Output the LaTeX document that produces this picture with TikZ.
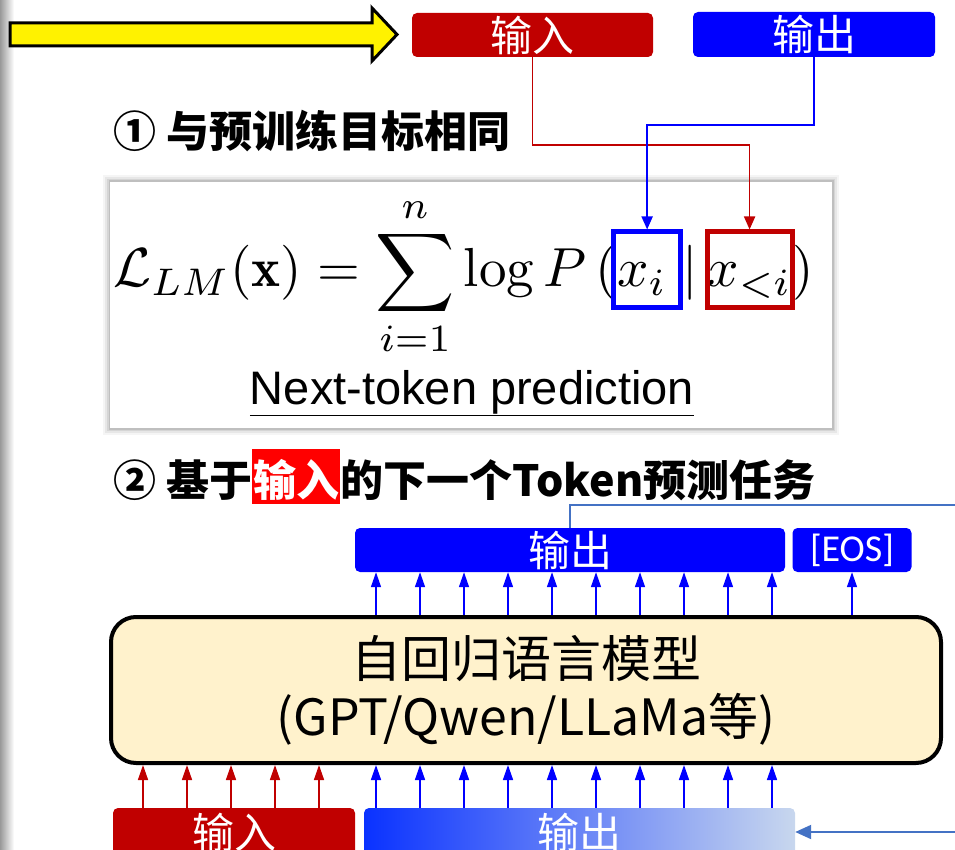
\documentclass[tikz,border=0pt]{standalone}
\usepackage{graphicx}
\usepackage{fontspec}
\usetikzlibrary{arrows.meta}
\newfontfamily\cjkfont{Noto Sans CJK SC}
\newfontfamily\eosfont{Carlito}
\newfontfamily\ntfont{Liberation Sans}
\definecolor{dred}{HTML}{C00000}
\definecolor{pblue}{HTML}{0000FF}
\definecolor{steel}{HTML}{4472C4}
\definecolor{cream}{HTML}{FFF2CC}
\definecolor{gstart}{HTML}{0A32FF}
\definecolor{gend}{HTML}{C8D7EE}
\newcommand\fs[1]{\scalebox{5.5}{$\displaystyle #1$}}
\tikzset{
  lbl/.style={rounded corners=5pt, inner sep=0pt, text=white, font=\cjkfont\fontsize{42}{44}\selectfont},
  head/.style={anchor=base west, inner sep=0pt, font=\cjkfont\bfseries\fontsize{43}{45}\selectfont},
  fpiece/.style={anchor=base west, inner sep=0pt},
  tokbox/.style={line width=5pt, inner sep=0pt, text height=55pt, text depth=20pt, anchor=base},
  redline/.style={draw=dred, line width=1.8pt, -{Triangle[length=13pt,width=11pt]}},
  blueline/.style={draw=pblue, line width=1.8pt, -{Triangle[length=13pt,width=11pt]}},
  uparr/.style={line width=1.5pt, -{Triangle[length=15pt,width=10pt]}},
  steelline/.style={draw=steel, line width=1.5pt}
}
\begin{document}
\begin{tikzpicture}[x=1pt, y=-1pt]
\useasboundingbox (0,0) rectangle (955,850);
% left page shadow
\shade[left color=black!40, right color=white] (0,0) rectangle (14,850);
% yellow arrow
\draw[line width=3pt, fill=yellow, line join=miter] (10,23) -- (372,23) -- (372,8) -- (397,34.5) -- (372,61) -- (372,46) -- (10,46) -- cycle;
% top boxes
\node[lbl, fill=dred, minimum width=241pt, minimum height=44pt] (in1) at (532.5,35) {输入};
\node[lbl, fill=pblue, minimum width=242pt, minimum height=45pt] (out1) at (814,34.5) {输出};
% heading 1
\node[head] (h1) at (113,148) {① 与预训练目标相同};
% formula box with shadow
\foreach \i/\o in {7/0.04, 5/0.06, 3/0.08, 1.5/0.1} \fill[black, opacity=\o] (110-\i,182-\i) rectangle (832+\i,428+\i);
\node[fill=white, inner sep=0pt, minimum width=722pt, minimum height=246pt] (fbox) at (471,305) {};
% formula
\node[fpiece] (f1) at (113,287) {\fs{\mathcal{L}_{LM}(\mathbf{x}) = \sum_{i=1}^{n} \log P\,(}};
\node[fpiece] (f2) at (f1.base east) {\fs{x_i}};
\node[fpiece] (f3) at (f2.base east) {\fs{\;|\,}};
\node[fpiece] (f4) at (f3.base east) {\fs{x_{<i}}};
\node[fpiece] (f5) at (f4.base east) {\fs{)}};
\node[tokbox, draw=pblue, minimum width=67pt] (bxi) at ([xshift=5pt]f2.base) {};
\node[tokbox, draw=dred, minimum width=85pt] (bxlt) at (f4.base) {};
\node[anchor=base, inner sep=0pt, font=\ntfont\fontsize{47}{50}\selectfont] (ntp) at (472,404) {\underline{Next-token prediction}};
% connectors to formula
\draw[redline] (in1.south) -- ++(0,88) -| (bxlt.north);
\draw[blueline] (out1.south) -- ++(0,68) -| (bxi.north);
% heading 2
\node[head] (h2a) at (113,496) {② 基于};
\node[head, fill=red, text=white, inner xsep=1pt, inner ysep=0pt, text height=47pt, text depth=8pt] (h2b) at (h2a.base east) {输入};
\node[head] (h2c) at (h2b.base east) {的下一个Token预测任务};
% output row
\node[lbl, fill=pblue, minimum width=430pt, minimum height=44pt] (out2) at (570,550) {输出};
\node[lbl, fill=pblue, minimum width=119pt, minimum height=44pt, font=\eosfont\fontsize{38}{40}\selectfont] (eos) at (852,550) {[EOS]};
\coordinate (edgeT) at (955,505);
\draw[steelline] (out2.north) |- (edgeT);
% model
\node[draw=black, line width=4pt, fill=cream, rounded corners=25pt, minimum width=830pt, minimum height=146pt, align=center, font=\cjkfont\fontsize{50}{58}\selectfont] (lm) at (526,690) {自回归语言模型\\(GPT/Qwen/LLaMa等)};
% bottom row
\node[lbl, fill=dred, minimum width=242pt, minimum height=48pt] (in2) at (234,832) {输入};
\node[lbl, left color=gstart, right color=gend, minimum width=431pt, minimum height=48pt] (out3) at (579.5,832) {输出};
\coordinate (edgeB) at (955,832);
\draw[draw=steel, line width=2pt, -{Triangle[length=16pt,width=14pt]}] (edgeB) -- (out3.east);
% arrows into the model
\foreach \x in {143,187,231,275,319} \draw[uparr, draw=dred, fill=dred] (in2.north -| \x,0) -- (lm.south -| \x,0);
\foreach \x in {376,420,464,508,552,596,640,684,728,772} \draw[uparr, draw=pblue, fill=pblue] (out3.north -| \x,0) -- (lm.south -| \x,0);
% arrows out of the model
\foreach \x in {376,420,464,508,552,596,640,684,728,772} \draw[uparr, draw=pblue, fill=pblue] (lm.north -| \x,0) -- (out2.south -| \x,0);
\draw[uparr, draw=pblue, fill=pblue] (lm.north -| eos.south) -- (eos.south);
\end{tikzpicture}
\end{document}
